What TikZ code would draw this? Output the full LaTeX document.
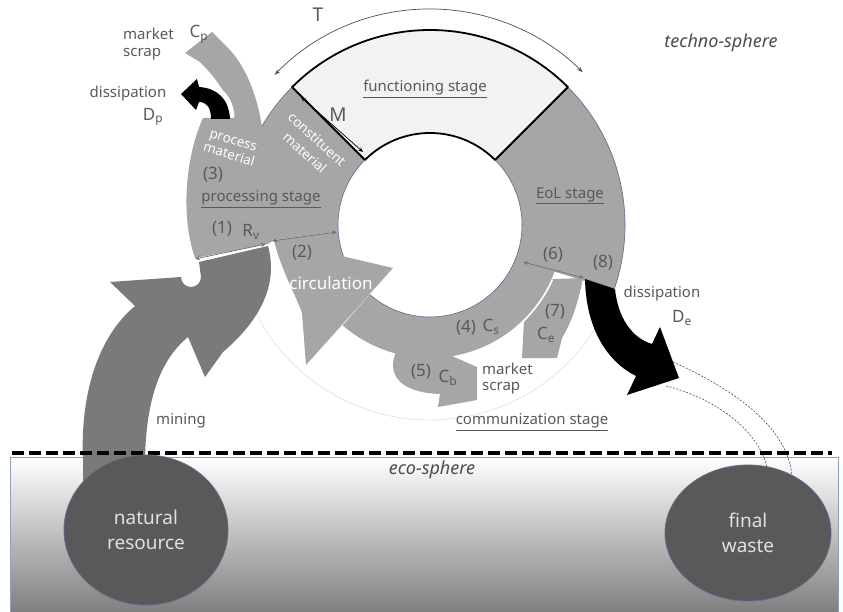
\documentclass[tikz,border=0pt]{standalone}
\usepackage{fontspec}
\setmainfont{Noto Sans}
\usetikzlibrary{arrows.meta,shapes.geometric,calc}
\definecolor{ringc}{HTML}{A6A6A6}
\definecolor{minec}{HTML}{7A7A7A}
\definecolor{funcc}{HTML}{F2F2F2}
\definecolor{labc}{HTML}{595959}
\definecolor{numc}{HTML}{4D4D4D}
\definecolor{edgec}{HTML}{5B6E8F}
\definecolor{ballc}{HTML}{595959}
\definecolor{ecoedge}{HTML}{8EA2C0}
\begin{document}
\begin{tikzpicture}[x=1pt,y=-1pt,
  lab/.style={text=labc, inner sep=0pt, font=\fontsize{15}{18}\selectfont},
  num/.style={text=labc, inner sep=0pt, font=\fontsize{17}{20}\selectfont},
  wlab/.style={text=white, inner sep=0pt, font=\bfseries\fontsize{13.5}{18}\selectfont, align=center},
  sph/.style={text=numc, inner sep=0pt, font=\itshape\fontsize{18}{20}\selectfont},
  ball/.style={ellipse, fill=ballc, draw=edgec, line width=0.8pt, inner sep=0pt, text=black!12, font=\fontsize{19}{25}\selectfont, align=center},
  dbl/.style={draw=numc!80, line width=0.7pt, arrows={Stealth[length=5pt,width=4pt]-Stealth[length=5pt,width=4pt]}},
  edgeline/.style={edgec, line width=0.6pt},
  ]
\useasboundingbox (0,0) rectangle (843,612);
\coordinate (O) at (430,225);

% eco-sphere box
\shade[top color=white, bottom color=black!50] (10,457) rectangle (838,612);
\draw[ecoedge, line width=0.6pt] (838,612) -- (838,457) -- (10,457) -- (10,612);

% faint communization circle
\draw[black!10, line width=0.8pt] (O) circle[radius=195];

% T arc
\draw[numc, line width=0.7pt, arrows={Stealth[length=6pt,width=4pt]-Stealth[length=6pt,width=4pt]}] ($(O)+(-136:216)$) arc[start angle=-136, end angle=-45, radius=216];

% mining arrow
\fill[minec] (83,505) -- (83,460) .. controls (80,390) and (100,335) .. (135,306) -- (110,282) -- (181,277) arc[start angle=180, end angle=0, radius=10] -- (199,262) -- (268,246) .. controls (276,275) and (270,312) .. (223,352) -- (205,377) -- (188,337) .. controls (160,360) and (146,400) .. (145,460) -- (145,505) -- cycle;

% processing stage with process material arrow
\fill[ringc] ($(O)+(-135:195)$) arc[start angle=-135, end angle=-149.6, radius=195] .. controls (258,100) and (248,70) .. (230,50) -- (212,32) -- (185,53) -- (200,62) .. controls (218,80) and (230,98) .. (234,118) -- (203,118) .. controls (186,155) and (180,215) .. (195,258) -- (268,244) -- (274,240) -- ($(O)+(176:92)$) arc[start angle=176, end angle=225, radius=92] -- cycle;

% circulation band and head
\fill[ringc] ($(O)+(18:133)$) arc[start angle=18, end angle=131, radius=133] -- ($(O)+(131:92)$) arc[start angle=131, end angle=18, radius=92] -- cycle;
\fill[ringc] (393,268) -- ($(O)+(160:92)$) arc[start angle=160, end angle=176, radius=92] -- (274,240) .. controls (280,268) and (298,300) .. (302,313) -- (306,365) -- cycle;

% EoL stage
\fill[ringc] ($(O)+(-45:195)$) arc[start angle=-45, end angle=19.5, radius=195] -- ($(O)+(22:92)$) arc[start angle=22, end angle=-45, radius=92] -- cycle;

% (7) arrow
\fill[ringc] ($(O)+(45:133)$) arc[start angle=45, end angle=24, radius=133] -- (583,278) .. controls (578,305) and (570,325) .. (562,338) -- (557,358) -- (522,358) -- cycle;
\draw[white, line width=1.6pt] ($(O)+(24:134)$) arc[start angle=24, end angle=46, radius=134];

% (5) arrow
\fill[ringc] ($(O)+(105:131)$) .. controls (385,378) and (405,393) .. (440,394) -- (438,407) -- (477,400) -- (477,367) -- (452,356) -- ($(O)+(84:131)$) -- cycle;

% dissipation De
\fill[black] (585,279) -- (615,289) .. controls (618,318) and (632,338) .. (652,344) -- (660,327) -- (679,378) -- (627,395) -- (636,376) .. controls (608,362) and (586,330) .. (585,279) -- cycle;
\draw[numc, line width=0.6pt, dash pattern=on 2pt off 1.5pt] (673,362) .. controls (740,392) and (788,430) .. (792,476);
\draw[numc, line width=0.6pt, dash pattern=on 2pt off 1.5pt] (666,386) .. controls (715,398) and (758,430) .. (767,467);

% dissipation Dp
\draw[white, line width=3pt] (233,117) .. controls (232,96) and (218,84) .. (200,83);
\fill[black] (230,119) .. controls (229,98) and (216,88) .. (199,87) -- (197,79) -- (181,94) -- (196,110) -- (199,102) .. controls (207,102) and (211,108) .. (211,119) -- cycle;

% functioning stage
\filldraw[fill=funcc, draw=black, line width=1.8pt, line join=miter] ($(O)+(-135:195)$) arc[start angle=-135, end angle=-45, radius=195] -- ($(O)+(-45:92)$) arc[start angle=-45, end angle=-135, radius=92] -- cycle;

% thin edges
\draw[edgeline] ($(O)+(-45:195)$) arc[start angle=-45, end angle=19.5, radius=195];
\draw[edgeline] ($(O)+(-45:92)$) arc[start angle=-45, end angle=131, radius=92];
\draw[edgeline] ($(O)+(160:92)$) arc[start angle=160, end angle=225, radius=92];
\draw[edgeline] ($(O)+(-135:195)$) arc[start angle=-135, end angle=-149.6, radius=195];

% boundary arrows
\coordinate (p1a) at (195,259); \coordinate (p1b) at (266,244);
\coordinate (p2a) at (272,241); \coordinate (p2b) at (337,232);
\coordinate (p6a) at (523,262); \coordinate (p6b) at (584,278);
\coordinate (ma) at (301,97); \coordinate (mb) at (363,152);
\draw[dbl] (p1a) -- (p1b);
\draw[dbl] (p2a) -- (p2b);
\draw[dbl] (p6a) -- (p6b);
\draw[dbl, draw=black] (ma) -- (mb);

% eco/techno boundary
\draw[black, line width=3.5pt, dash pattern=on 12pt off 5pt] (12,453) -- (832,453);

% natural resource / final waste
\node[ball, minimum width=164pt, minimum height=150pt] (nat) at (146,530) {natural\\resource};
\node[ball, minimum width=166pt, minimum height=136pt] (fw) at (748,533) {final\\waste};

% labels
\node[lab, anchor=west] (mk1) at (123,34) {market};
\node[num] (cp) at (199,34) {C\textsubscript{p}};
\node[lab, anchor=west] (mk2) at (123,54) {scrap};
\node[lab] (dis1) at (128,94) {dissipation};
\node[num] (dp) at (153,117) {D\textsubscript{p}};
\node[num, font=\fontsize{19}{22}\selectfont] (T) at (318,15) {T};
\node[num, font=\fontsize{19}{22}\selectfont] (M) at (338,115) {M};
\node[lab] (fs) at (425,89) {\underline{functioning stage}};
\node[wlab, rotate=-42] (cm) at (311,146) {constituent\\material};
\node[wlab, rotate=-17, font=\bfseries\fontsize{13.5}{15}\selectfont] (pm) at (231,148) {process\\material};
\node[num] (n3) at (213,175) {(3)};
\node[lab] (ps) at (261,199) {\underline{processing stage}};
\node[num] (n1) at (222,229) {(1)};
\node[num] (rv) at (251,232) {R\textsubscript{v}};
\node[num] (n2) at (302,253) {(2)};
\node[lab, text=white, font=\fontsize{17}{20}\selectfont] (circ) at (331,283) {circulation};
\node[lab] (eol) at (570,196) {\underline{EoL stage}};
\node[num] (n6) at (553,255) {(6)};
\node[num] (n8) at (603,263) {(8)};
\node[lab] (dis2) at (662,294) {dissipation};
\node[num] (de) at (682,318) {D\textsubscript{e}};
\node[num] (n4) at (466,328) {(4)};
\node[num] (cs) at (491,327) {C\textsubscript{s}};
\node[num] (n7) at (555,312) {(7)};
\node[num] (ce) at (546,335) {C\textsubscript{e}};
\node[num] (n5) at (421,372) {(5)};
\node[num] (cb) at (448,378) {C\textsubscript{b}};
\node[lab, anchor=west] (ms1) at (482,369) {market};
\node[lab, anchor=west] (ms2) at (482,388) {scrap};
\node[lab] (comm) at (532,422) {\underline{communization stage}};
\node[lab] (mining) at (181,421) {mining};
\node[sph] (eco) at (432,470) {eco-sphere};
\node[sph] (tech) at (721,43) {techno-sphere};
\end{tikzpicture}
\end{document}
